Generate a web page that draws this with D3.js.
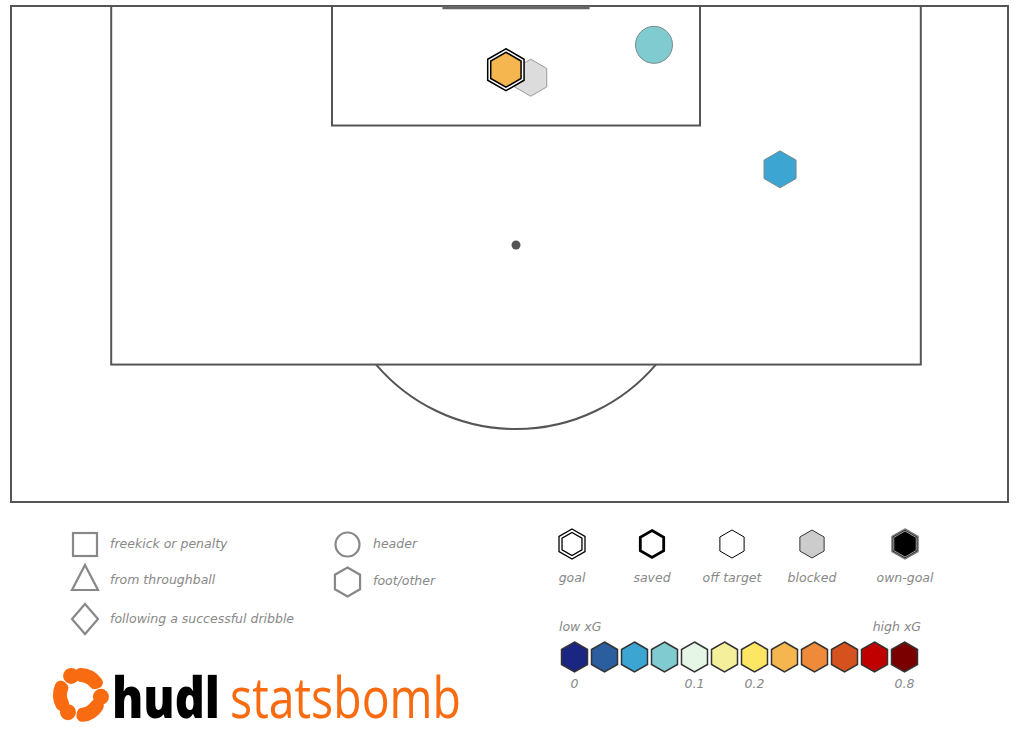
<!DOCTYPE html>
<html lang="en">
<head>
<meta charset="utf-8">
<title>Shot map</title>
<script src="https://d3js.org/d3.v7.min.js"></script>
<style>
  body { margin: 0; background: #fff; }
  svg { display: block; }
  .lbl { font-family: "DejaVu Sans", Verdana, sans-serif; font-style: italic; font-size: 12.5px; fill: #888; }
</style>
</head>
<body>
<svg id="chart"></svg>
<script>
// shots (statsbomb coords: x = length towards goal at 120, y = across 0..80)
var shotX = [116.4, 116.8, 118.05, 111.8];
var shotY = [40.8, 39.45, 47.5, 54.35];
var shotXg = [0.09, 0.3, 0.07, 0.045];
var shotOutcome = ["blocked", "goal", "off target", "off target"];
var shotBody = ["foot", "foot", "header", "foot"];

// legends
var typeLabels = ["freekick or penalty", "from throughball", "following a successful dribble", "header", "foot/other"];
var outcomeLabels = ["goal", "saved", "off target", "blocked", "own-goal"];
var xgColors = ["#1b2683", "#2b5e9f", "#3ca5d2", "#80cbd0", "#e6f6e6", "#f4ef9a",
                "#fde664", "#f5b650", "#ee8a3a", "#d5521e", "#c00000", "#7a0000"];
var xgTicks = [0, 0.1, 0.2, 0.8];
var xgTickIndex = [0, 4, 6, 11];

var width = 1020, height = 743;
var svg = d3.select("#chart").attr("width", width).attr("height", height);

// pitch scales
var x = d3.scaleLinear().domain([0, 80]).range([516 - 40 * 18.4, 516 + 40 * 18.4]);
var y = d3.scaleLinear().domain([120, 95]).range([6, 504]);

// xG -> colour index
var xgIndex = d3.scaleLinear().domain(xgTicks).range(xgTickIndex).clamp(true);
function xgColor(v) { return xgColors[Math.round(xgIndex(v))]; }

function hex(r) {
    var pts = d3.range(6).map(function(k) {
        var a = -Math.PI / 2 + k * Math.PI / 3;
        return [r * Math.cos(a), r * Math.sin(a)];
    });
    return "M" + pts.join("L") + "Z";
}

var pitch = svg.append("g")
    .attr("fill", "none")
    .attr("stroke", "#555")
    .attr("stroke-width", 2);

pitch.append("rect")
    .attr("x", 11).attr("y", 6)
    .attr("width", 997).attr("height", 496);

// penalty area
pitch.append("rect")
    .attr("x", x(18)).attr("y", y(120))
    .attr("width", x(62) - x(18)).attr("height", y(102) - y(120));

// six yard box
pitch.append("rect")
    .attr("x", x(30)).attr("y", y(120))
    .attr("width", x(50) - x(30)).attr("height", y(114) - y(120));

// goal
pitch.append("line")
    .attr("x1", x(36)).attr("x2", x(44))
    .attr("y1", y(120) + 1.5).attr("y2", y(120) + 1.5)
    .attr("stroke", "#666").attr("stroke-width", 3.5);

// arc
var r10 = x(50) - x(40);
var dy = y(102) - y(108);
var phi = Math.acos(dy / r10);
var p = d3.path();
p.arc(x(40), y(108), r10, Math.PI / 2 + phi, Math.PI / 2 - phi, true);
pitch.append("path").attr("d", p.toString());

svg.append("circle")
    .attr("cx", x(40)).attr("cy", y(108)).attr("r", 4.5)
    .attr("fill", "#555");

// shots
var shots = d3.range(shotX.length).map(function(i) {
    return { x: shotX[i], y: shotY[i], xg: shotXg[i], outcome: shotOutcome[i], body: shotBody[i] };
});

var sg = svg.append("g");
shots.forEach(function(d) {
    var g = sg.append("g").attr("transform", "translate(" + x(d.y) + "," + y(d.x) + ")");
    if (d.body === "header") {
        g.append("circle").attr("r", 18.5)
            .attr("fill", xgColor(d.xg)).attr("stroke", "#7a8a90").attr("stroke-width", 1);
    } else if (d.outcome === "goal") {
        g.append("path").attr("d", hex(21)).attr("fill", "#fff").attr("stroke", "#000").attr("stroke-width", 1.5);
        g.append("path").attr("d", hex(17.5)).attr("fill", xgColor(d.xg)).attr("stroke", "#000").attr("stroke-width", 1.5);
    } else if (d.outcome === "blocked") {
        g.append("path").attr("d", hex(18.5)).attr("fill", "#dcdcdc").attr("stroke", "#999").attr("stroke-width", 1);
    } else {
        g.append("path").attr("d", hex(18.5)).attr("fill", xgColor(d.xg)).attr("stroke", "#7a8a90").attr("stroke-width", 1);
    }
});

// shape legend
var sym = svg.append("g").attr("fill", "none").attr("stroke", "#888").attr("stroke-width", 2.2);
sym.append("rect").attr("x", 73).attr("y", 533).attr("width", 24).attr("height", 23);
sym.append("path").attr("d", "M85,565L98,590L72,590Z");
sym.append("path").attr("d", "M85,604L98,619L85,634L72,619Z");
sym.append("circle").attr("cx", 347.5).attr("cy", 544.5).attr("r", 12);
sym.append("path").attr("d", hex(14.5)).attr("transform", "translate(347.5,582)");

var typePos = [[110, 548], [110, 584], [110, 623], [373, 548], [373, 585]];
svg.selectAll(".tlbl").data(typeLabels).enter().append("text")
    .attr("class", "lbl")
    .attr("x", function(d, i) { return typePos[i][0]; })
    .attr("y", function(d, i) { return typePos[i][1]; })
    .text(function(d) { return d; });

// outcome legend
var outCx = { "goal": 572, "saved": 652, "off target": 732, "blocked": 812, "own-goal": 905 };
var og = svg.append("g");
outcomeLabels.forEach(function(o) {
    var g = og.append("g").attr("transform", "translate(" + outCx[o] + ",544)");
    if (o === "goal") {
        g.append("path").attr("d", hex(15)).attr("fill", "#fff").attr("stroke", "#000").attr("stroke-width", 1.3);
        g.append("path").attr("d", hex(11.5)).attr("fill", "#fff").attr("stroke", "#000").attr("stroke-width", 1.3);
    } else if (o === "saved") {
        g.append("path").attr("d", hex(13.5)).attr("fill", "#fff").attr("stroke", "#000").attr("stroke-width", 2.8);
    } else if (o === "off target") {
        g.append("path").attr("d", hex(14)).attr("fill", "#fff").attr("stroke", "#000").attr("stroke-width", 1);
    } else if (o === "blocked") {
        g.append("path").attr("d", hex(14)).attr("fill", "#ccc").attr("stroke", "#333").attr("stroke-width", 1);
    } else {
        g.append("path").attr("d", hex(15)).attr("fill", "#000").attr("stroke", "#777").attr("stroke-width", 1.5);
        g.append("path").attr("d", hex(13)).attr("fill", "#000").attr("stroke", "#ccc").attr("stroke-width", 0.8);
    }
    og.append("text").attr("class", "lbl")
        .attr("x", outCx[o]).attr("y", 582)
        .attr("text-anchor", "middle")
        .text(o);
});

// xG colour legend
var cx = d3.scalePoint().domain(d3.range(xgColors.length)).range([574.5, 904.5]);
svg.append("g").selectAll("path").data(xgColors).enter().append("path")
    .attr("d", hex(15))
    .attr("transform", function(d, i) { return "translate(" + cx(i) + ",657)"; })
    .attr("fill", function(d) { return d; })
    .attr("stroke", "#333").attr("stroke-width", 1.5);

svg.append("text").attr("class", "lbl").attr("x", 559).attr("y", 631).text("low xG");
svg.append("text").attr("class", "lbl").attr("x", 921).attr("y", 631).attr("text-anchor", "end").text("high xG");

svg.append("g").selectAll("text").data(xgTicks).enter().append("text")
    .attr("class", "lbl")
    .attr("x", function(d, i) { return cx(xgTickIndex[i]); })
    .attr("y", 688)
    .attr("text-anchor", "middle")
    .text(function(d) { return d; });

// logo
var orange = "#f96b10";
var logo = svg.append("g").attr("transform", "translate(80,695)");
[0, 120, 240].forEach(function(a) {
    var arc = d3.arc().innerRadius(13).outerRadius(27)
        .startAngle((a - 15) * Math.PI / 180).endAngle((a + 70) * Math.PI / 180)
        .cornerRadius(6);
    logo.append("path").attr("d", arc()).attr("fill", orange);
    var ha = (a - 25) * Math.PI / 180;
    logo.append("circle")
        .attr("cx", 21 * Math.sin(ha)).attr("cy", -21 * Math.cos(ha))
        .attr("r", 8).attr("fill", orange);
});
var brand = svg.append("text")
    .attr("x", 112).attr("y", 718)
    .attr("font-family", "'Open Sans', sans-serif")
    .attr("font-size", 56);
brand.append("tspan")
    .attr("font-weight", 800).attr("fill", "#000")
    .attr("textLength", 108).attr("lengthAdjust", "spacingAndGlyphs")
    .text("hudl");
brand.append("tspan")
    .attr("x", 230)
    .attr("font-weight", 400).attr("fill", orange)
    .attr("textLength", 231).attr("lengthAdjust", "spacingAndGlyphs")
    .text("statsbomb");
</script>
</body>
</html>
